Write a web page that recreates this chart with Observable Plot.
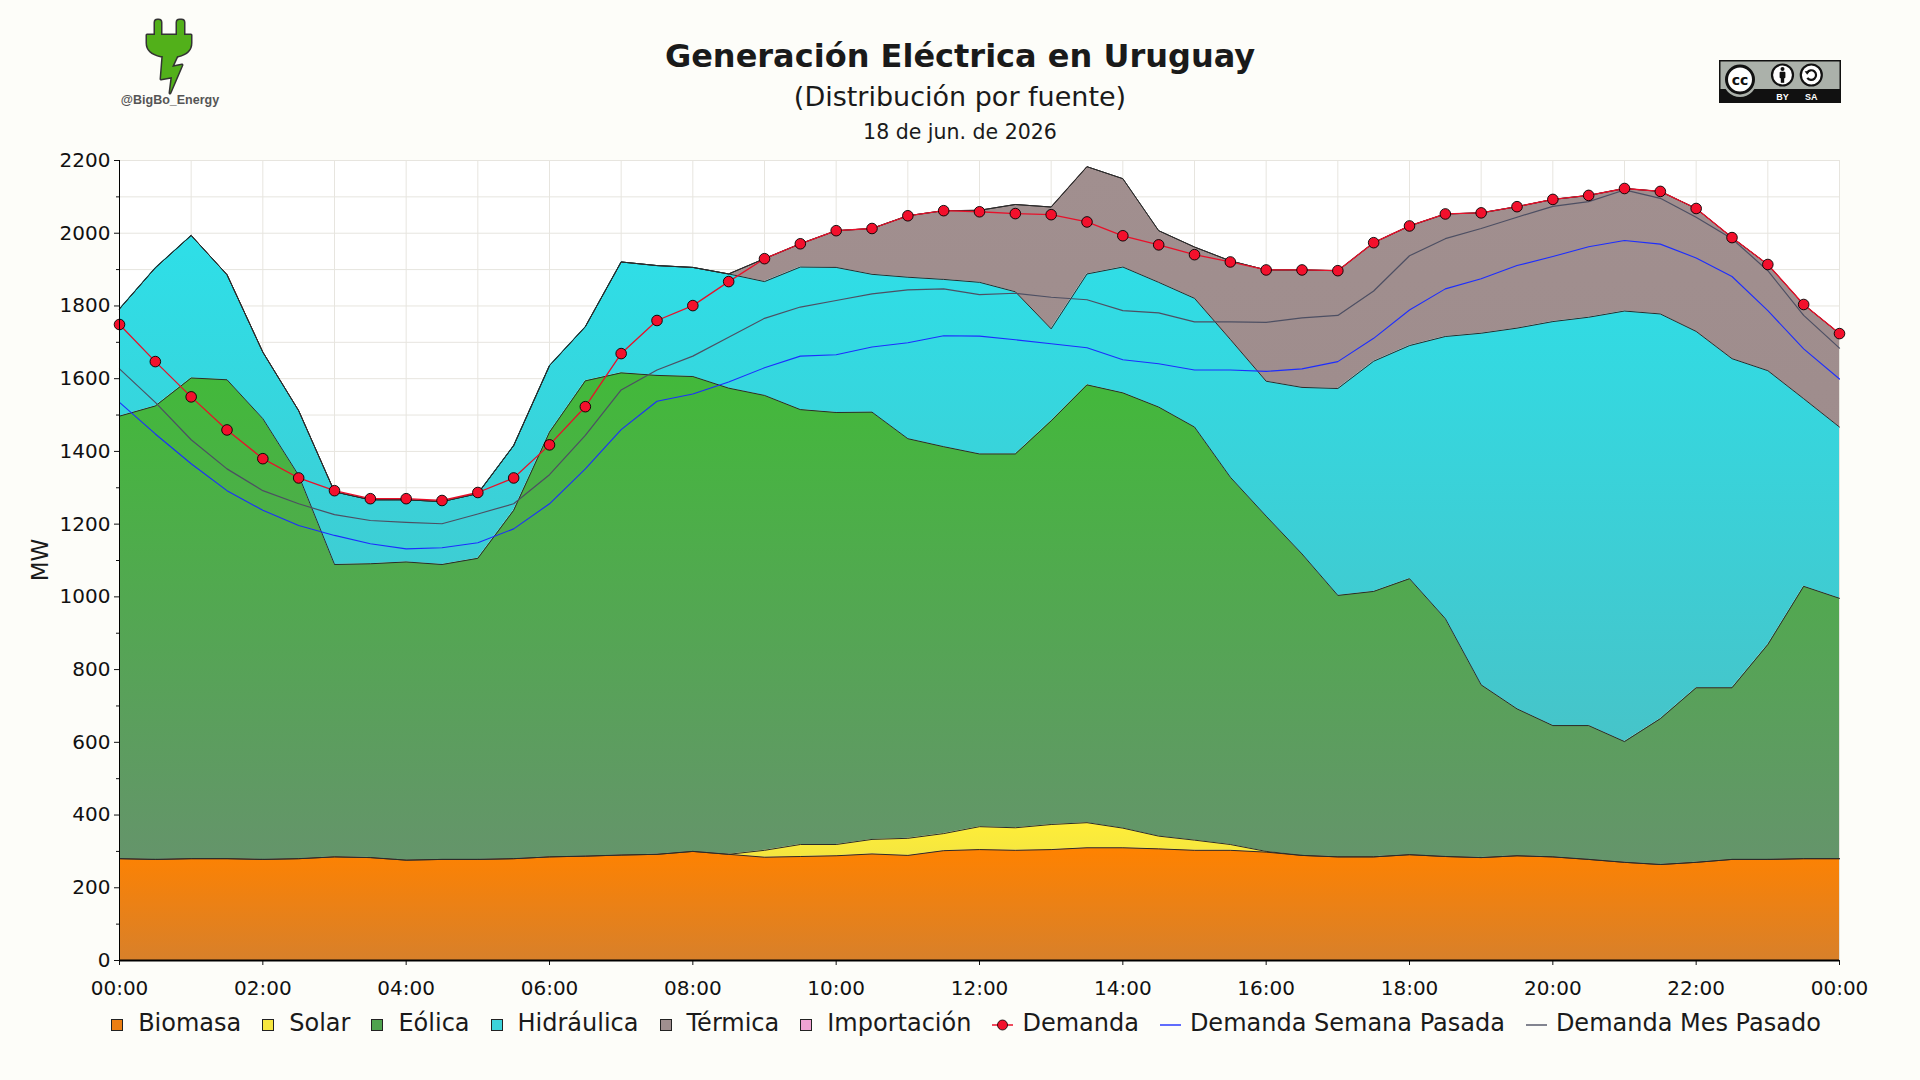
<!DOCTYPE html>
<html>
<head>
<meta charset="utf-8">
<script src="https://cdn.jsdelivr.net/npm/d3@7"></script>
<script src="https://cdn.jsdelivr.net/npm/@observablehq/plot@0.6"></script>
<style>
  html, body { margin: 0; padding: 0; background: #FDFDF9; }
  #page { position: relative; width: 1920px; height: 1080px; overflow: hidden; font-family: "DejaVu Sans", sans-serif; color: #1a1a1a; }
  .ctr { position: absolute; left: 0; width: 1920px; text-align: center; white-space: nowrap; }
  #title { top: 40px; font-size: 32px; line-height: 32px; font-weight: bold; }
  #subtitle { top: 83px; font-size: 27px; line-height: 27px; }
  #date { top: 122px; font-size: 20.5px; line-height: 20.5px; }
  #chart { position: absolute; left: 0; top: 140px; }
  #ylabel { position: absolute; left: 40px; top: 560px; font-size: 23px; transform: translate(-50%, -50%) rotate(-90deg); white-space: nowrap; }
  #legend { position: absolute; left: 6px; width: 1920px; top: 1011px; display: flex; justify-content: center; gap: 21px; font-size: 24px; line-height: 24px; white-space: nowrap; }
  #legend .it { display: inline-block; }
  #legend .sw { display: inline-block; width: 10px; height: 10px; border: 1px solid #222; margin-right: 15px; vertical-align: baseline; }
  #legend svg { vertical-align: baseline; margin-right: 9px; }
  #logo { position: absolute; left: 140px; top: 18px; }
  #handle { position: absolute; left: 110px; width: 120px; top: 93px; text-align: center; font-family: "Liberation Sans", Arial, sans-serif; font-weight: bold; font-size: 12.5px; color: #555; }
  #cc { position: absolute; left: 1719px; top: 60px; }
</style>
</head>
<body>
<div id="page">
  <svg id="logo" width="60" height="80" viewBox="0 0 60 80">
    <g transform="translate(7,2)" stroke="#333" stroke-width="3" stroke-linejoin="round" fill="#333">
      <rect x="8" y="0" width="6" height="17" rx="2.5"/>
      <rect x="30" y="0" width="7" height="17" rx="2.5"/>
      <path d="M0,15 H44 V23 Q44,33 31,36 L14,36 Q0,33 0,23 Z"/>
      <path d="M16,34 L31,34 L25,47 L35,45 L23,73 L25,57 L14,59 Z"/>
    </g>
    <g transform="translate(7,2)" fill="#52B01A" stroke="none">
      <rect x="8" y="0" width="6" height="17" rx="2.5"/>
      <rect x="30" y="0" width="7" height="17" rx="2.5"/>
      <path d="M0,15 H44 V23 Q44,33 31,36 L14,36 Q0,33 0,23 Z"/>
      <path d="M16,34 L31,34 L25,47 L35,45 L23,73 L25,57 L14,59 Z"/>
    </g>
  </svg>
  <div id="handle">@BigBo_Energy</div>
  <svg id="cc" width="122" height="43" viewBox="0 0 122 43">
    <rect x="0" y="0" width="122" height="43" fill="#111"/>
    <rect x="1.5" y="1.5" width="119" height="27.5" fill="#ABB1AA"/>
    <circle cx="21" cy="20" r="17" fill="#ABB1AA"/>
    <circle cx="21" cy="19.5" r="13.5" fill="#fff" stroke="#111" stroke-width="3"/>
    <text x="21" y="24.5" text-anchor="middle" font-family="DejaVu Sans" font-weight="bold" font-size="14" fill="#111">cc</text>
    <circle cx="63.5" cy="15" r="10.5" fill="#fff" stroke="#111" stroke-width="2.2"/>
    <circle cx="63.5" cy="9" r="2" fill="#111"/>
    <rect x="60.6" y="11.8" width="5.8" height="6.5" rx="1" fill="#111"/>
    <rect x="61.8" y="17" width="3.4" height="5.8" fill="#111"/>
    <circle cx="92.3" cy="15" r="10.5" fill="#fff" stroke="#111" stroke-width="2.2"/>
    <path d="M88.2,12.5 A4.8,4.8 0 1 1 88.3,17.8" fill="none" stroke="#111" stroke-width="2.2"/>
    <path d="M85.6,11.2 L90.8,11.2 L88.2,14.8 Z" fill="#111"/>
    <text x="63.5" y="39.5" text-anchor="middle" font-family="Liberation Sans, Arial" font-weight="bold" font-size="9" fill="#fff">BY</text>
    <text x="92.3" y="39.5" text-anchor="middle" font-family="Liberation Sans, Arial" font-weight="bold" font-size="9" fill="#fff">SA</text>
  </svg>
  <div id="title" class="ctr">Generación Eléctrica en Uruguay</div>
  <div id="subtitle" class="ctr">(Distribución por fuente)</div>
  <div id="date" class="ctr">18 de jun. de 2026</div>
  <div id="chart"></div>
  <div id="ylabel">MW</div>
  <div id="legend"></div>
</div>
<script>
// ---- Data (MW, every 30 minutes) ----
const horas = ["00:00","00:30","01:00","01:30","02:00","02:30","03:00","03:30","04:00","04:30","05:00","05:30",
  "06:00","06:30","07:00","07:30","08:00","08:30","09:00","09:30","10:00","10:30","11:00","11:30",
  "12:00","12:30","13:00","13:30","14:00","14:30","15:00","15:30","16:00","16:30","17:00","17:30",
  "18:00","18:30","19:00","19:30","20:00","20:30","21:00","21:30","22:00","22:30","23:00","23:30","24:00"];

const biomasa = [280,278,280,280,278,280,285,283,276,278,278,280,285,287,290,292,300,292,284,286,288,293,289,302,
  305,303,305,310,310,307,303,303,298,289,285,285,291,286,283,288,285,278,270,264,270,278,278,280,280];

const solar = [0,0,0,0,0,0,0,0,0,0,0,0,0,0,0,0,0,0,19,33,31,40,47,47,
  63,62,69,69,54,35,28,16,2,0,0,0,0,0,0,0,0,0,0,0,0,0,0,0,0];

const eolica = [1217,1247,1322,1317,1212,1054,804,808,820,811,828,958,1168,1307,1326,1317,1306,1282,1251,1196,1188,1175,1099,1064,
  1025,1028,1110,1204,1197,1180,1136,1010,922,829,719,730,759,654,475,404,361,368,332,401,480,472,591,749,716];

const hidraulica = [295,380,392,289,183,178,200,176,171,173,178,178,183,149,305,302,300,314,313,392,399,379,444,460,
  472,446,253,305,346,343,354,379,371,458,569,633,641,776,967,1047,1111,1123,1184,1113,980,905,753,516,471];

const termica = [0,0,0,0,0,0,0,0,0,0,0,0,0,0,0,0,0,0,63,64,101,126,169,189,
  198,240,335,295,243,142,141,216,306,323,324,326,329,337,331,334,336,335,337,337,338,333,292,259,257];

const importacion = [0,0,0,0,0,0,0,0,0,0,0,0,0,0,0,0,0,0,0,0,0,0,0,0,
  0,0,0,0,0,0,0,0,0,0,0,0,0,0,0,0,0,0,0,0,0,0,0,0,0];

const demanda = [1749,1647,1550,1459,1380,1327,1292,1270,1270,1265,1287,1327,1418,1523,1669,1760,1801,1867,1930,1971,2007,2013,2048,2062,
  2059,2054,2051,2031,1993,1968,1941,1921,1899,1899,1897,1974,2020,2053,2056,2073,2093,2104,2123,2115,2068,1988,1914,1804,1724];

const demandaSemana = [1535,1448,1366,1292,1238,1196,1169,1146,1132,1135,1149,1187,1256,1352,1460,1538,1558,1591,1630,1662,1666,1687,1699,1718,
  1717,1707,1696,1685,1652,1641,1624,1624,1620,1627,1647,1711,1789,1847,1875,1911,1936,1963,1980,1970,1932,1881,1787,1682,1599];

const demandaMes = [1627,1535,1432,1352,1292,1256,1226,1210,1205,1201,1228,1256,1336,1444,1569,1624,1662,1714,1766,1797,1815,1833,1844,1847,
  1831,1835,1824,1817,1787,1781,1756,1756,1755,1767,1774,1841,1938,1985,2013,2044,2074,2087,2119,2096,2044,1985,1897,1774,1684];

const fuentes = ["Biomasa","Solar","Eólica","Hidráulica","Térmica","Importación"];
const xTicks = ["00:00","02:00","04:00","06:00","08:00","10:00","12:00","14:00","16:00","18:00","20:00","22:00","00:00"];

// ---- Styles ----
const gradientes = {
  "Biomasa":     ["gBio", "#FF8200", "#D8802A"],
  "Solar":       ["gSol", "#FFEE38", "#F2E442"],
  "Eólica":      ["gEol", "#42B93A", "#65946B"],
  "Hidráulica":  ["gHid", "#2EDFE8", "#46C4C9"],
  "Térmica":     ["gTer", "#A18F8F", "#9E8C8C"],
  "Importación": ["gImp", "#EC94CC", "#E08ABE"]
};
const swatch = {"Biomasa":"#EC7E12","Solar":"#F6E640","Eólica":"#4FA24E","Hidráulica":"#3CD2DA","Térmica":"#A08F8F","Importación":"#F0A2D2"};

// ---- Build tables ----
const serie = {"Biomasa": biomasa, "Solar": solar, "Eólica": eolica, "Hidráulica": hidraulica, "Térmica": termica, "Importación": importacion};
const t = horas.map(h => { const [H, M] = h.split(":").map(Number); return H + M / 60; });
const largo = fuentes.flatMap(f => t.map((x, i) => ({t: x, fuente: f, mw: serie[f][i]})));
const lineas = t.map((x, i) => ({t: x, demanda: demanda[i], semana: demandaSemana[i], mes: demandaMes[i]}));
const tickPos = d3.range(0, 25, 2);

const grid = "#E7E5DF";
const chart = Plot.plot({
  width: 1920, height: 860,
  marginLeft: 119, marginRight: 81, marginTop: 20, marginBottom: 40,
  style: {fontFamily: "DejaVu Sans", fontSize: "20px", background: "transparent", color: "#111", overflow: "visible"},
  x: {domain: [0, 24], axis: null},
  y: {domain: [0, 2200], axis: null},
  color: {type: "ordinal", domain: fuentes, range: fuentes.map(f => `url(#${gradientes[f][0]})`)},
  marks: [
    Plot.frame({fill: "#FFFFFF", stroke: null}),
    Plot.gridY({ticks: d3.range(0, 2201, 100), stroke: grid, strokeOpacity: 1}),
    Plot.gridX({ticks: d3.range(0, 25, 1), stroke: grid, strokeOpacity: 1}),
    Plot.areaY(largo, {x: "t", y: "mw", z: "fuente", fill: "fuente", order: fuentes}),
    Plot.lineY(largo, Plot.stackY2({x: "t", y: "mw", z: "fuente", order: fuentes, stroke: "#2b2b2b", strokeWidth: 1})),
    Plot.lineY(lineas, {x: "t", y: "mes", stroke: "#4d4f63", strokeWidth: 1.2}),
    Plot.lineY(lineas, {x: "t", y: "semana", stroke: "#1c2dff", strokeWidth: 1.1}),
    Plot.lineY(lineas, {x: "t", y: "demanda", stroke: "#e8102a", strokeWidth: 1.3}),
    Plot.dot(lineas, {x: "t", y: "demanda", r: 5.3, fill: "#F3102C", stroke: "#000", strokeWidth: 0.9}),
    Plot.axisY({ticks: d3.range(0, 2201, 200), tickSize: 5, tickPadding: 4, label: null, fontSize: 20, tickFormat: d => String(d)}),
    Plot.axisY({ticks: d3.range(100, 2200, 200), tickSize: 3, tickFormat: () => "", label: null}),
    Plot.axisX({ticks: tickPos, tickSize: 5, tickPadding: 15, label: null, fontSize: 20,
      tickFormat: d => xTicks[tickPos.indexOf(d)]}),
    Plot.ruleX([0], {stroke: "#000", strokeWidth: 1}),
    Plot.ruleY([0], {stroke: "#000", strokeWidth: 2})
  ]
});

// gradient definitions (per-area vertical gradient)
const ns = "http://www.w3.org/2000/svg";
const defs = document.createElementNS(ns, "defs");
for (const f of fuentes) {
  const [id, top, bottom] = gradientes[f];
  const lg = document.createElementNS(ns, "linearGradient");
  lg.setAttribute("id", id);
  lg.setAttribute("x1", "0"); lg.setAttribute("y1", "0");
  lg.setAttribute("x2", "0"); lg.setAttribute("y2", "1");
  for (const [off, col] of [["0", top], ["1", bottom]]) {
    const s = document.createElementNS(ns, "stop");
    s.setAttribute("offset", off);
    s.setAttribute("stop-color", col);
    lg.appendChild(s);
  }
  defs.appendChild(lg);
}
chart.insertBefore(defs, chart.firstChild);
document.getElementById("chart").appendChild(chart);

// ---- Legend ----
const leg = document.getElementById("legend");
for (const f of fuentes) {
  const it = document.createElement("span");
  it.className = "it";
  it.innerHTML = `<span class="sw" style="background:${swatch[f]}"></span>${f}`;
  leg.appendChild(it);
}
const extra = [
  ["Demanda", `<svg width="21" height="12"><line x1="0" y1="6" x2="21" y2="6" stroke="#e8102a" stroke-width="1.5"/><circle cx="10.5" cy="6" r="5" fill="#F3102C" stroke="#000" stroke-width="0.8"/></svg>`],
  ["Demanda Semana Pasada", `<svg width="21" height="12"><line x1="0" y1="6" x2="21" y2="6" stroke="#1c2dff" stroke-width="1.4"/></svg>`],
  ["Demanda Mes Pasado", `<svg width="21" height="12"><line x1="0" y1="6" x2="21" y2="6" stroke="#4d4f63" stroke-width="1.4"/></svg>`]
];
for (const [label, icon] of extra) {
  const it = document.createElement("span");
  it.className = "it";
  it.innerHTML = icon + label;
  leg.appendChild(it);
}
</script>
</body>
</html>
